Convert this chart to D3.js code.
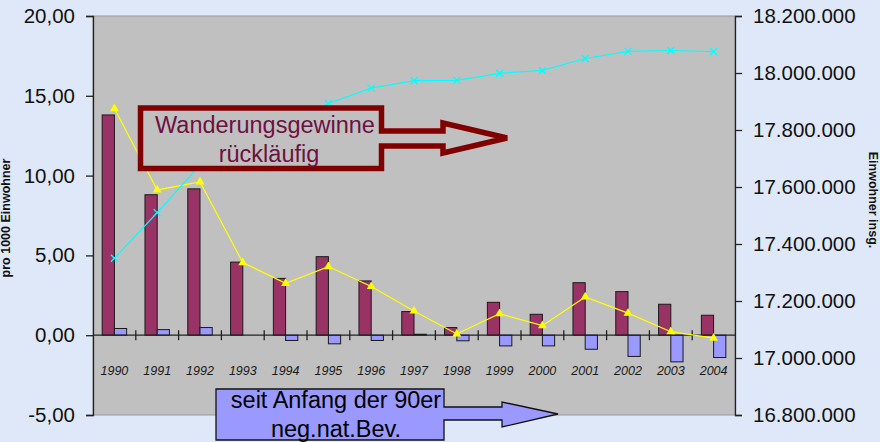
<!DOCTYPE html>
<html>
<head>
<meta charset="utf-8">
<script src="https://cdn.jsdelivr.net/npm/d3@7"></script>
<style>
  body { margin: 0; background: #dfe8f9; }
  svg { display: block; font-family: Arial, "Liberation Sans", sans-serif; }
</style>
</head>
<body>
<div id="chart"></div>
<script>
// Jahre und Werte (pro 1000 Einwohner bzw. Einwohner insgesamt)
var years = ["1990","1991","1992","1993","1994","1995","1996","1997","1998","1999","2000","2001","2002","2003","2004"];
var wanderung = [13.8, 8.8, 9.17, 4.58, 3.56, 4.92, 3.4, 1.48, 0.48, 2.06, 1.31, 3.29, 2.73, 1.94, 1.25];
var natSaldo = [0.42, 0.35, 0.48, 0, -0.33, -0.54, -0.33, 0.06, -0.35, -0.67, -0.67, -0.88, -1.33, -1.67, -1.4];
var gesamt = [14.2, 9.1, 9.6, 4.55, 3.25, 4.3, 3.05, 1.52, 0.08, 1.35, 0.6, 2.4, 1.38, 0.22, -0.18];
var einwohner = [17350000, 17510000, 17677000, 17760000, 17818000, 17893000, 17947000, 17973000, 17974000, 17999000, 18009000, 18051000, 18076000, 18079000, 18075000];
var leftTicks = [-5, 0, 5, 10, 15, 20];
var rightTicks = [16800000, 17000000, 17200000, 17400000, 17600000, 17800000, 18000000, 18200000];

(function() {
  var width = 880, height = 442;
  var pL = 93, pR = 735, pT = 16, pB = 415;

  var de = d3.formatLocale({decimal: ",", thousands: ".", grouping: [3], currency: ["", " €"], minus: "-"});
  var fmtL = de.format(",.2f"), fmtR = de.format(",d");

  var svg = d3.select("#chart").append("svg")
    .attr("width", width).attr("height", height);

  svg.append("rect").attr("width", width).attr("height", height).attr("fill", "#dfe8f9");

  var x0 = d3.scaleBand().domain(years).range([pL, pR]).padding(0);
  var x1 = d3.scaleBand().domain(["w", "n"]).range([0, x0.bandwidth()]).paddingInner(0).paddingOuter(0.75);
  var y = d3.scaleLinear().domain([-5, 20]).range([pB, pT]);
  var y2 = d3.scaleLinear().domain([16800000, 18200000]).range([pB, pT]);
  var cx = function(i) { return x0(years[i]) + x0.bandwidth() / 2; };

  // Zeichenfläche
  svg.append("rect")
    .attr("x", pL).attr("y", pT)
    .attr("width", pR - pL).attr("height", pB - pT)
    .attr("fill", "#c0c0c0").attr("stroke", "#989898").attr("stroke-width", 1);

  // Achsen
  var axL = svg.append("g").attr("transform", "translate(" + pL + ",0)")
    .call(d3.axisLeft(y).tickValues(leftTicks).tickFormat(fmtL).tickSize(7).tickPadding(11));
  var axR = svg.append("g").attr("transform", "translate(" + pR + ",0)")
    .call(d3.axisRight(y2).tickValues(rightTicks).tickFormat(fmtR).tickSize(7).tickPadding(11));
  [axL, axR].forEach(function(a) {
    a.select(".domain").attr("stroke", "#222").attr("stroke-width", 1.3);
    a.selectAll(".tick line").attr("stroke", "#222").attr("stroke-width", 1.3);
    a.selectAll(".tick text").attr("font-size", 20.5).attr("fill", "#111")
      .attr("font-family", "Arial, 'Liberation Sans', sans-serif");
  });

  // Balken
  var rows = years.map(function(yr, i) { return {yr: yr, w: wanderung[i], n: natSaldo[i]}; });
  var grp = svg.append("g").selectAll("g").data(rows).enter().append("g")
    .attr("transform", function(d) { return "translate(" + x0(d.yr) + ",0)"; });
  grp.selectAll("rect").data(function(d) { return [{k: "w", v: d.w}, {k: "n", v: d.n}]; })
    .enter().append("rect")
    .attr("x", function(d) { return x1(d.k); })
    .attr("width", x1.bandwidth())
    .attr("y", function(d) { return y(Math.max(0, d.v)); })
    .attr("height", function(d) { return Math.abs(y(d.v) - y(0)); })
    .attr("fill", function(d) { return d.k == "w" ? "#993366" : "#9999ff"; })
    .attr("stroke", "#1a1a1a").attr("stroke-width", 1);

  // x-Achse bei 0
  svg.append("line").attr("x1", pL).attr("x2", pR).attr("y1", y(0)).attr("y2", y(0))
    .attr("stroke", "#222").attr("stroke-width", 1.3);
  svg.append("g").selectAll("line").data(years.slice(1)).enter().append("line")
    .attr("x1", function(d) { return x0(d); }).attr("x2", function(d) { return x0(d); })
    .attr("y1", y(0) - 5).attr("y2", y(0) + 5)
    .attr("stroke", "#222").attr("stroke-width", 1.3);
  svg.append("g").selectAll("text").data(years).enter().append("text")
    .attr("x", function(d, i) { return cx(i); }).attr("y", y(0) + 40)
    .attr("text-anchor", "middle").attr("font-size", 12.5).attr("font-style", "italic")
    .attr("fill", "#1a1a1a").text(function(d) { return d; });

  // Linien
  var lineG = d3.line().x(function(d, i) { return cx(i); }).y(function(d) { return y(d); });
  svg.append("path").datum(gesamt).attr("d", lineG)
    .attr("fill", "none").attr("stroke", "#ffff00").attr("stroke-width", 1.2);
  svg.append("g").selectAll("path").data(gesamt).enter().append("path")
    .attr("d", d3.symbol().type(d3.symbolTriangle).size(34))
    .attr("transform", function(d, i) { return "translate(" + cx(i) + "," + y(d) + ")"; })
    .attr("fill", "#ffff00");

  var lineE = d3.line().x(function(d, i) { return cx(i); }).y(function(d) { return y2(d); });
  svg.append("path").datum(einwohner).attr("d", lineE)
    .attr("fill", "none").attr("stroke", "#00ffff").attr("stroke-width", 1.2);
  svg.append("g").selectAll("path").data(einwohner).enter().append("path")
    .attr("d", "M-3.5,-3.5L3.5,3.5M-3.5,3.5L3.5,-3.5")
    .attr("transform", function(d, i) { return "translate(" + cx(i) + "," + y2(d) + ")"; })
    .attr("stroke", "#00ffff").attr("stroke-width", 1.3);

  // Achsentitel
  svg.append("text").attr("transform", "translate(10,218) rotate(-90)")
    .attr("text-anchor", "middle").attr("font-size", 12.5).attr("font-weight", "bold")
    .attr("fill", "#111").text("pro 1000 Einwohner");
  svg.append("text").attr("transform", "translate(869,200) rotate(90)")
    .attr("text-anchor", "middle").attr("font-size", 12.5).attr("font-weight", "bold")
    .attr("fill", "#111").text("Einwohner insg.");

  // Hinweispfeile
  svg.append("path")
    .attr("d", "M140.5,108H381.5V131H443V123L507,138L443,153V146H381.5V168.5H140.5Z")
    .attr("fill", "#c0c0c0").attr("stroke", "#800000").attr("stroke-width", 5.5);
  svg.append("text").attr("x", 265).attr("y", 133).attr("text-anchor", "middle")
    .attr("font-size", 23.5).attr("fill", "#6e1040").text("Wanderungsgewinne");
  svg.append("text").attr("x", 269).attr("y", 162).attr("text-anchor", "middle")
    .attr("font-size", 23.5).attr("fill", "#6e1040").text("rückläufig");

  svg.append("path")
    .attr("d", "M216,389H444V407H502V402L558,414L502,427V420H444V440H216Z")
    .attr("fill", "#9999ff").attr("stroke", "#111").attr("stroke-width", 1.3);
  svg.append("text").attr("x", 336).attr("y", 408).attr("text-anchor", "middle")
    .attr("font-size", 23.5).attr("fill", "#000").text("seit Anfang der 90er");
  svg.append("text").attr("x", 336).attr("y", 437).attr("text-anchor", "middle")
    .attr("font-size", 23.5).attr("fill", "#000").text("neg.nat.Bev.");
})();
</script>
</body>
</html>
